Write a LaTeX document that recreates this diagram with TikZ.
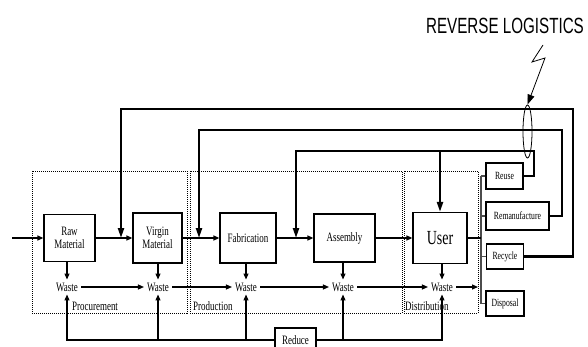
\documentclass[tikz,border=0pt]{standalone}
\usepackage{fontspec}
\setmainfont{Liberation Serif}[FakeStretch=0.7]
\newfontfamily\rlfont{Liberation Sans}[FakeStretch=0.69]
\usetikzlibrary{arrows.meta, shapes.geometric}

\begin{document}
\begin{tikzpicture}[
			x=1pt, y=-1pt,
			stage/.style={draw, line width=1.2pt, align=center, inner sep=1pt, font=\fontsize{12.8}{13.5}\selectfont},
			option/.style={draw, line width=1.2pt, inner sep=1pt, minimum height=25pt, font=\fontsize{11}{12}\selectfont},
			waste/.style={inner sep=3pt, font=\fontsize{12.8}{14}\selectfont},
			region/.style={draw, line width=0.6pt, dash pattern=on 1pt off 1pt},
			label/.style={anchor=base west, inner sep=0pt, font=\fontsize{12.8}{14}\selectfont},
			tip/.style={-{Triangle[length=6pt,width=5pt]}},
			link/.style={line width=1.2pt},
			back/.style={line width=2.2pt},
			bigtip/.style={-{Triangle[length=10pt,width=6pt]}},
			bus/.style={line width=1.3pt, black!70},
			]
			\useasboundingbox (0,0) rectangle (588,347);
			
			%% ── Stages (dotted regions) ──────────────────────────────────────────
			\draw[region] (32,171) rectangle (187,313);
			\draw[region] (190,171) rectangle (402,313);
			\draw[region] (404,171) rectangle (478,313);
			\node[label] (lproc) at (72,310)  {Procurement};
			\node[label] (lprod) at (193,310) {Production};
			\node[label] (ldist) at (405,310) {Distribution};
			
			%% ── Forward chain ────────────────────────────────────────────────────
			\node[stage, minimum width=51pt, minimum height=47pt] (raw)    at (69.5,238) {Raw\\Material};
			\node[stage, minimum width=49pt, minimum height=50pt] (virgin) at (157.5,238) {Virgin\\Material};
			\node[stage, minimum width=56pt, minimum height=50pt] (fab)    at (248,238) {Fabrication};
			\node[stage, minimum width=61pt, minimum height=48pt] (asm)    at (344.5,238) {Assembly};
			\node[stage, minimum width=54pt, minimum height=51pt, font=\fontsize{20}{22}\selectfont] (user) at (440,238) {User};
			
			\coordinate (src) at (12,238);
			\draw[link,tip] (src) -- (raw.west);
			\draw[link,tip] (raw.east) -- (virgin.west);
			\draw[link,tip] (virgin.east) -- (fab.west);
			\draw[link,tip] (fab.east) -- (asm.west);
			\draw[link,tip] (asm.east) -- (user.west);
			
			%% ── Waste ────────────────────────────────────────────────────────────
			\node[waste] (w1) at (67,287)  {Waste};
			\node[waste] (w2) at (158,287) {Waste};
			\node[waste] (w3) at (246,287) {Waste};
			\node[waste] (w4) at (343,287) {Waste};
			\node[waste] (w5) at (442,287) {Waste};
			
			\draw[link,tip] (raw.south -| w1) -- (w1.north);
			\draw[link,tip] (virgin.south -| w2) -- (w2.north);
			\draw[link,tip] (fab.south -| w3) -- (w3.north);
			\draw[link,tip] (asm.south -| w4) -- (w4.north);
			\draw[link,tip] (user.south -| w5) -- (w5.north);
			
			\coordinate (dedge) at (478,287);
			\draw[link,tip] (w1.east) -- (w2.west);
			\draw[link,tip] (w2.east) -- (w3.west);
			\draw[link,tip] (w3.east) -- (w4.west);
			\draw[link,tip] (w4.east) -- (w5.west);
			\draw[link,tip] (w5.east) -- (dedge);
			
			%% ── Reduce ───────────────────────────────────────────────────────────
			\node[stage, minimum width=41pt, minimum height=24pt] (reduce) at (295.5,340) {Reduce};
			\draw[link,tip] (reduce.west) -| (w1.south);
			\draw[link,tip] (reduce.west -| w2.south) -- (w2.south);
			\draw[link,tip] (reduce.west -| w3.south) -- (w3.south);
			\draw[link,tip] (reduce.east -| w4.south) -- (w4.south);
			\draw[link,tip] (reduce.east) -| (w5.south);
			
			%% ── End-of-life options ──────────────────────────────────────────────
			\node[option, minimum width=37pt, minimum height=26pt] (reuse) at (504.5,176) {Reuse};
			\node[option, minimum width=63pt, minimum height=28pt] (reman) at (517.5,216) {Remanufacture};
			\node[option, minimum width=37pt] (recyc) at (505,256.5) {Recycle};
			\node[option, minimum width=38pt] (disp)  at (505,303.5) {Disposal};
			
			\coordinate (bus1) at (481,176);
			\coordinate (bus2) at (481,303.5);
			\draw[bus] (bus1) -- (bus2);
			\draw[bus] (bus1) -- (reuse.west);
			\draw[bus] (reman.west -| bus1) -- (reman.west);
			\draw[bus] (recyc.west -| bus1) -- (recyc.west);
			\draw[bus] (bus2) -- (disp.west);
			\draw[link] (user.east) -- (user.east -| bus1);
			
			%% ── Reverse flows ────────────────────────────────────────────────────
			\coordinate (r1) at (573,109);
			\coordinate (r2) at (562,130);
			\coordinate (r3) at (534,151);
			\coordinate (in1) at (121,238);
			\coordinate (in2) at (199,238);
			\coordinate (in3) at (296,238);
			\draw[back,bigtip] (recyc.east) -| (r1) -| (in1);
			\draw[back,bigtip] (reman.east) -| (r2) -| (in2);
			\draw[back,bigtip] (reuse.east) -| (r3) -| (in3);
			\draw[back,bigtip] (user.north |- r3) -- (user.north);
			
			%% ── Reverse logistics callout ────────────────────────────────────────
			\node[draw, ellipse, line width=0.8pt, minimum width=9pt, minimum height=53pt, inner sep=0pt] (rl) at (527.5,131.5) {};
			\node[font=\rlfont\fontsize{22}{24}\selectfont] (rltext) at (505,26) {REVERSE LOGISTICS};
			\coordinate (z1) at (543,45);
			\coordinate (z2) at (532,62);
			\coordinate (z3) at (545,58);
			\draw[line width=0.8pt, -{Triangle[length=10pt,width=7pt]}] (z1) -- (z2) -- (z3) -- (rl.north);
			
		\end{tikzpicture}
\end{document}
